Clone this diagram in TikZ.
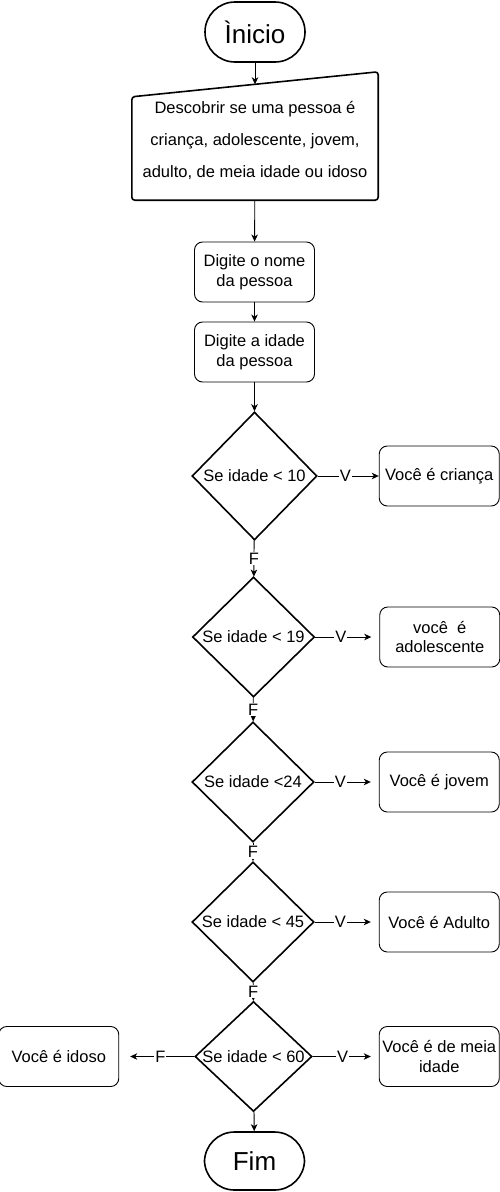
\documentclass[tikz,border=0pt]{standalone}
\usepackage{fontspec}
\setmainfont{Liberation Sans}
\usepackage{tikz}
\usetikzlibrary{shapes.geometric, arrows.meta, positioning, calc}
\tikzset{
    terminal/.style={
        rectangle,
        rounded corners=30pt,
        draw=black,
        line width=1.6pt,
        minimum width=100pt,
        minimum height=60pt,
        font=\fontsize{26}{30}\selectfont
    },
    process/.style={
        rectangle,
        rounded corners=8pt,
        draw=black,
        line width=0.9pt,
        minimum width=120pt,
        minimum height=60pt,
        align=center,
        inner sep=0pt,
        font=\fontsize{16.5}{19.8}\selectfont
    },
    decision/.style={
        diamond,
        draw=black,
        line width=1.6pt,
        minimum width=122pt,
        minimum height=120pt,
        inner sep=0pt,
        font=\fontsize{16.5}{19.8}\selectfont
    },
    connection/.style={
        draw=black,
        line width=0.9pt,
        -{Stealth[length=7pt, width=6.5pt, inset=2pt]}
    },
    label/.style={
        fill=white,
        inner sep=1pt,
        font=\fontsize{16.5}{19.8}\selectfont
    }
}
\begin{document}
\begin{tikzpicture}[x=1pt, y=-1pt, node distance=20pt and 64pt]

\useasboundingbox (0,0) rectangle (499,1192);

% Start
\node[terminal] (inicio) at (255,32) {Ìnicio};

% Manual input
\node[minimum width=246pt, minimum height=120pt, inner sep=0pt, align=center,
      font=\fontsize{16.5}{32}\selectfont] (desc) at (255,140)
      {Descobrir se uma pessoa é\\criança, adolescente, jovem,\\adulto, de meia idade ou idoso};
\draw[line width=1.6pt, rounded corners=3pt] (desc.south west) -- (desc.south east)
    -- ($(desc.north east)+(0,-8)$) -- ($(desc.north west)+(0,17)$) -- cycle;
\coordinate (desctop) at ($(desc.north)+(0,4.5)$);

% Inputs
\node[process] (nome) at (254.5,272) {Digite o nome\\da pessoa};
\node[process] (idade) at (254.5,352) {Digite a idade\\da pessoa};

% Decisions
\node[decision, minimum width=125pt, minimum height=128pt] (d1) at (254.5,476)
    {\makebox[0pt]{Se idade < 10}};
\node[decision] (d2) at (253.5,637) {\makebox[0pt]{Se idade < 19}};
\node[decision] (d3) at (253,782) {\makebox[0pt]{Se idade <24}};
\node[decision] (d4) at (253,922) {\makebox[0pt]{Se idade < 45}};
\node[decision, minimum width=117pt, minimum height=110pt] (d5) at (253.5,1056.5)
    {\makebox[0pt]{Se idade < 60}};

% End
\node[terminal, minimum height=58pt] (fim) at (254.5,1161) {Fim};

% Results
\node[process, right=61pt of d1] (crianca) {Você é criança};
\node[process, right=of d2] (adolescente) {você\ \ é\\adolescente};
\node[process, right=of d3] (jovem) {Você é jovem};
\node[process, right=of d4] (adulto) {Você é Adulto};
\node[process, right=66pt of d5] (meia) {Você é de meia\\idade};
\node[process, left=75pt of d5] (idoso) {Você é idoso};

% Connections
\draw[connection] (inicio) -- (desctop);
\draw[connection] (desc) -- (nome);
\draw[connection] (nome) -- (idade);
\draw[connection] (idade) -- (d1);
\draw[connection] (d1) -- node[label] {F} (d2);
\draw[connection] (d2) -- node[label] {F} (d3);
\draw[connection] (d3) -- node[label] {F} (d4);
\draw[connection] (d4) -- node[label] {F} (d5);
\draw[connection] (d5) -- (fim);
\draw[connection] (d1) -- node[label, pos=0.45] {V} (crianca);
\draw[connection, shorten >=8pt] (d2) -- node[label, pos=0.4] {V} (adolescente);
\draw[connection, shorten >=8pt] (d3) -- node[label, pos=0.4] {V} (jovem);
\draw[connection, shorten >=8pt] (d4) -- node[label, pos=0.4] {V} (adulto);
\draw[connection, shorten >=8pt] (d5) -- node[label, pos=0.45] {V} (meia);
\draw[connection, shorten >=11pt] (d5) -- node[label, pos=0.45] {F} (idoso);

\end{tikzpicture}
\end{document}
